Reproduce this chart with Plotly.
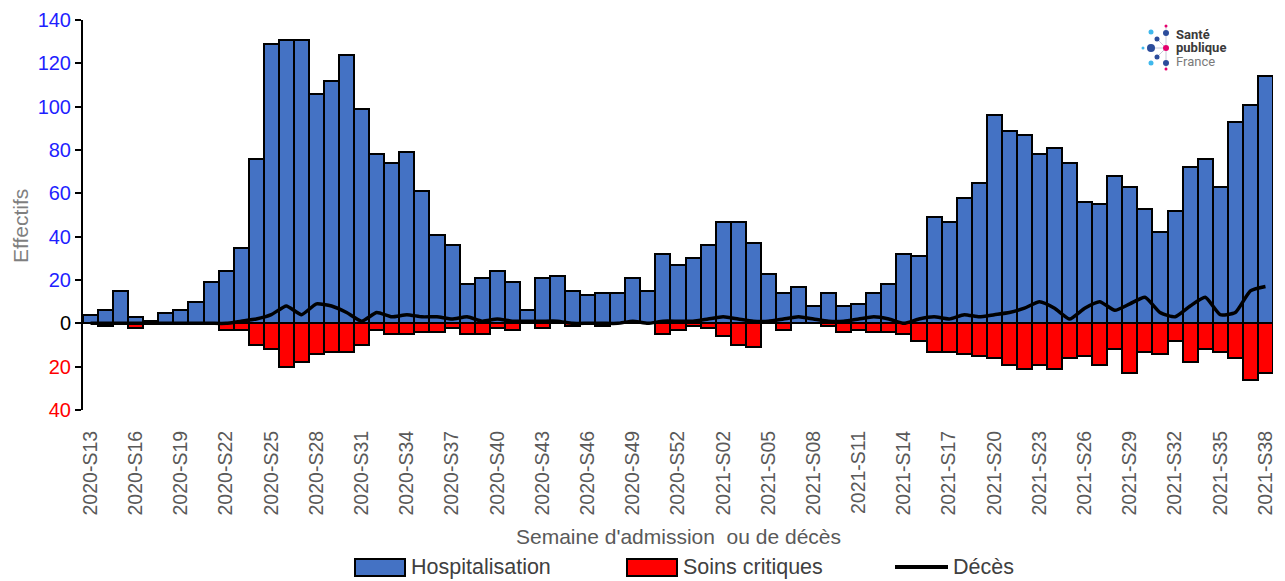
import plotly.graph_objects as go

# ---------------- data ----------------
weeks_2020 = [f"2020-S{w:02d}" for w in range(13, 54)]
weeks_2021 = [f"2021-S{w:02d}" for w in range(1, 39)]
weeks = weeks_2020 + weeks_2021

hospitalisation = [
    4, 6, 15, 3, 1, 5, 6, 10, 19, 24, 35, 76, 129, 131, 131, 106, 112, 124, 99, 78,
    74, 79, 61, 41, 36, 18, 21, 24, 19, 6, 21, 22, 15, 13, 14, 14, 21, 15, 32, 27, 30,
    36, 47, 47, 37, 23, 14, 17, 8, 14, 8, 9, 14, 18, 32, 31, 49, 47, 58, 65, 96,
    89, 87, 78, 81, 74, 56, 55, 68, 63, 53, 42, 52, 72, 76, 63, 93, 101, 114,
]
soins_critiques = [
    0, 1, 0, 2, 0, 0, 0, 0, 0, 3, 3, 10, 12, 20, 18, 14, 13, 13, 10, 3,
    5, 5, 4, 4, 2, 5, 5, 2, 3, 0, 2, 0, 1, 0, 1, 0, 0, 0, 5, 3, 1,
    2, 6, 10, 11, 0, 3, 0, 0, 1, 4, 3, 4, 4, 5, 8, 13, 13, 14, 15, 16,
    19, 21, 19, 21, 16, 15, 19, 12, 23, 13, 14, 8, 18, 12, 13, 16, 26, 23,
]
deces = [
    0, 0, 0, 0, 0, 0, 0, 0, 0, 0, 1, 2, 4, 8, 4, 9, 8, 5, 1, 5,
    3, 4, 3, 3, 2, 3, 1, 2, 1, 1, 1, 1, 0, 0, 0, 0, 1, 0, 1, 1, 1,
    2, 3, 2, 1, 1, 2, 3, 2, 1, 1, 2, 3, 2, 0, 2, 3, 2, 4, 3, 4,
    5, 7, 10, 7, 2, 7, 10, 6, 9, 12, 5, 3, 8, 12, 4, 5, 15, 17,
]
y_ticks = [-40, -20, 0, 20, 40, 60, 80, 100, 120, 140]
x_ticks = weeks[::3]

# ---------------- style ----------------
W, H = 1285, 581
OFF = 8                      # page body margin of the html page
L, T = 83 - OFF, 20 - OFF    # plot area: screen x 83..1273, y 20..410
R = W - (1273 - OFF)
B = H - (410 - OFF)
NARROW = "Liberation Sans Narrow, Arial Narrow, Liberation Sans, Arial, sans-serif"
GREY = "#595959"
BLUE = "#4472C4"
RED = "#FF0000"

def px(x):  # screen x -> paper
    return (x - 83) / (1273 - 83)

def py(y):  # screen y -> paper
    return (410 - y) / (410 - 20)

def tick_label(v):
    if v > 0:
        return f'<span style="color:#1F1FFF">{v}</span>'
    if v < 0:
        return f'<span style="color:#FF0000">{-v}</span>'
    return '<span style="color:#000000">0</span>'

fig = go.Figure()
fig.add_trace(go.Bar(
    x=weeks, y=hospitalisation, name="Hospitalisation",
    marker=dict(color=BLUE, line=dict(color="black", width=2)),
    showlegend=False,
))
fig.add_trace(go.Bar(
    x=weeks, y=[-v for v in soins_critiques], name="Soins critiques",
    marker=dict(color=RED, line=dict(color="black", width=2)),
    showlegend=False,
))
fig.add_trace(go.Scatter(
    x=weeks, y=deces, name="Décès", mode="lines",
    line=dict(color="black", width=3.5, shape="spline", smoothing=0.5),
    showlegend=False,
))

shapes = []
annotations = []

# custom legend
def legend_box(x0, color):
    shapes.append(dict(type="rect", xref="paper", yref="paper",
                       x0=px(x0), x1=px(x0 + 50), y0=py(576), y1=py(559),
                       fillcolor=color, line=dict(color="black", width=2)))

legend_box(355, BLUE)
legend_box(627, RED)
shapes.append(dict(type="line", xref="paper", yref="paper",
                   x0=px(895), x1=px(948), y0=py(567), y1=py(567),
                   line=dict(color="black", width=4)))
for x0, txt in [(409, "Hospitalisation"), (681, "Soins critiques"), (951, "Décès")]:
    annotations.append(dict(x=px(x0), y=py(567), xref="paper", yref="paper",
                            text=txt, showarrow=False, xanchor="left", yanchor="middle",
                            font=dict(family=NARROW, size=21.5, color="#404040")))

# axis titles
annotations.append(dict(x=px(678), y=py(536), xref="paper", yref="paper",
                        text="Semaine d'admission  ou de décès", showarrow=False,
                        xanchor="center", yanchor="middle",
                        font=dict(family=NARROW, size=21, color=GREY)))
annotations.append(dict(x=px(20), y=py(226), xref="paper", yref="paper",
                        text="Effectifs", showarrow=False, textangle=-90,
                        xanchor="center", yanchor="middle",
                        font=dict(family=NARROW, size=21, color="#7F7F7F")))

# logo (Santé publique France)
DB, LB, PK = "#2B4C9B", "#3FB8EC", "#E5006D"
for (x0, y0, x1, y1) in [(1166, 26, 1166, 69), (1151, 48, 1166, 48),
                         (1157, 39, 1166, 48), (1157, 57, 1166, 48)]:
    shapes.append(dict(type="line", xref="paper", yref="paper",
                       x0=px(x0), y0=py(y0), x1=px(x1), y1=py(y1),
                       line=dict(color="#C8C8D8", width=1)))
for (cx, cy, r, c) in [(1166, 26, 1.5, PK), (1166, 33, 3, DB), (1151, 32, 2.5, LB),
                       (1157, 39, 2.5, DB), (1151, 48, 4, DB), (1166, 48, 3, PK),
                       (1143, 48, 1.5, LB), (1157, 57, 2.5, DB), (1151, 63, 2.5, LB),
                       (1166, 63, 3, DB), (1166, 69, 1.5, PK)]:
    shapes.append(dict(type="circle", xref="paper", yref="paper",
                       x0=px(cx - r), x1=px(cx + r), y0=py(cy + r), y1=py(cy - r),
                       fillcolor=c, line=dict(width=0)))
for (ty, txt, bold, col) in [(35, "Santé", True, "#3A3A3A"), (48, "publique", True, "#3A3A3A"),
                             (62, "France", False, "#7A7A7A")]:
    annotations.append(dict(x=px(1174), y=py(ty), xref="paper", yref="paper",
                            text=f"<b>{txt}</b>" if bold else txt, showarrow=False,
                            xanchor="left", yanchor="middle",
                            font=dict(family="Roboto, Liberation Sans, sans-serif",
                                      size=13, color=col)))

fig.update_layout(
    width=W, height=H,
    margin=dict(l=L, r=R, t=T, b=B, pad=0, autoexpand=False),
    paper_bgcolor="white", plot_bgcolor="white",
    barmode="relative", bargap=0,
    showlegend=False,
    shapes=shapes, annotations=annotations,
    xaxis=dict(
        type="category", range=[-0.5, len(weeks) - 0.5],
        tickmode="array", tickvals=x_ticks, ticktext=x_ticks,
        tickangle=-90, ticks="", showline=False, showgrid=False, zeroline=False,
        automargin=False, ticklabelstandoff=16,
        tickfont=dict(family="Liberation Sans, Arial, sans-serif", size=19.5, color=GREY),
    ),
    yaxis=dict(
        range=[-40, 140], tickmode="array", tickvals=y_ticks,
        ticktext=[tick_label(v) for v in y_ticks],
        showline=True, linecolor="black", linewidth=2,
        ticks="outside", ticklen=6, tickwidth=2, tickcolor="black",
        showgrid=False, zeroline=True, zerolinecolor="black", zerolinewidth=1.5,
        automargin=False,
        tickfont=dict(family=NARROW, size=20),
    ),
)

fig.write_html("out.html")
